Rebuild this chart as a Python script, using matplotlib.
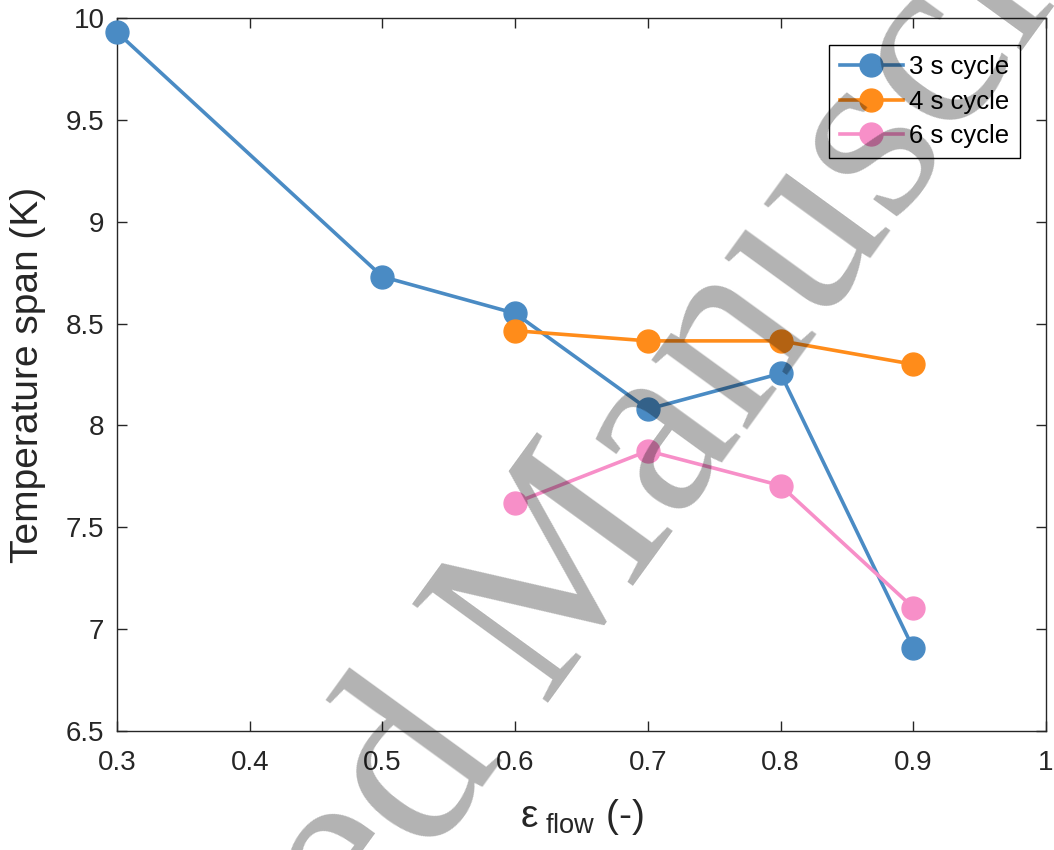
import matplotlib
matplotlib.use('Agg')
import matplotlib.pyplot as plt

# data
eps_3s = [0.3, 0.5, 0.6, 0.7, 0.8, 0.9]
span_3s = [9.93, 8.73, 8.55, 8.08, 8.255, 6.905]
eps_4s = [0.6, 0.7, 0.8, 0.9]
span_4s = [8.465, 8.415, 8.415, 8.30]
eps_6s = [0.6, 0.7, 0.8, 0.9]
span_6s = [7.62, 7.875, 7.705, 7.105]
labels = ['3 s cycle', '4 s cycle', '6 s cycle']
colors = ['#4a8bc4', '#ff8c1a', '#f78fc8']

x_ticks = [0.3, 0.4, 0.5, 0.6, 0.7, 0.8, 0.9, 1.0]
x_ticklabels = ['0.3', '0.4', '0.5', '0.6', '0.7', '0.8', '0.9', '1']
y_ticks = [6.5, 7, 7.5, 8, 8.5, 9, 9.5, 10]
y_ticklabels = ['6.5', '7', '7.5', '8', '8.5', '9', '9.5', '10']

plt.rcParams['font.family'] = ['Liberation Sans', 'DejaVu Sans']
plt.rcParams['mathtext.fontset'] = 'custom'
plt.rcParams['mathtext.rm'] = 'Liberation Sans'
plt.rcParams['mathtext.it'] = 'Liberation Sans'

W, H = 1054, 850
fig = plt.figure(figsize=(W / 100, H / 100), dpi=100)
ax = fig.add_axes([117 / W, 1 - 731 / H, (1046 - 117) / W, (731 - 18) / H])

dark = '#262626'
series = [(eps_3s, span_3s), (eps_4s, span_4s), (eps_6s, span_6s)]
for (xs, ys), lab, col in zip(series, labels, colors):
    ax.plot(xs, ys, '-o', color=col, lw=2.6, ms=16.5, mec=col, mfc=col,
            label=lab, clip_on=False, zorder=3)

ax.set_xlim(0.3, 1.0)
ax.set_ylim(6.5, 10)
ax.set_xticks(x_ticks)
ax.set_xticklabels(x_ticklabels)
ax.set_yticks(y_ticks)
ax.set_yticklabels(y_ticklabels)
ax.tick_params(direction='in', length=7.5, width=1.0, color=dark,
               labelsize=20, labelcolor=dark, top=True, right=True)
ax.tick_params(axis='x', pad=14)
ax.tick_params(axis='y', pad=9)
for sp in ax.spines.values():
    sp.set_color(dark)
    sp.set_linewidth(1.0)

ax.set_ylabel('Temperature span (K)', fontsize=28, color=dark, labelpad=14)
ax.set_xlabel(r'$\mathregular{ε_{\ flow}}$ (-)', fontsize=28, color=dark,
              labelpad=15)

leg = ax.legend(loc='upper right', bbox_to_anchor=(0.972, 0.962),
                borderaxespad=0, fontsize=18.5, frameon=True, fancybox=False,
                edgecolor='black', framealpha=1, handlelength=2.45,
                handletextpad=0.27, labelspacing=0.4, borderpad=0.4)
leg.get_frame().set_linewidth(1.0)

# "Accepted Manuscript" watermark drawn over the plot
wm = dict(fontsize=184, family='Liberation Serif', color='black', alpha=0.3,
          rotation=54, rotation_mode='anchor', va='baseline', zorder=10)
ox, oy = 541, 703
fig.text(ox / W, 1 - oy / H, 'Manuscript', ha='left', **wm)
fig.text((ox - 37) / W, 1 - (oy + 52) / H, 'Accepted', ha='right', **wm)

fig.savefig('out.png', dpi=100)
